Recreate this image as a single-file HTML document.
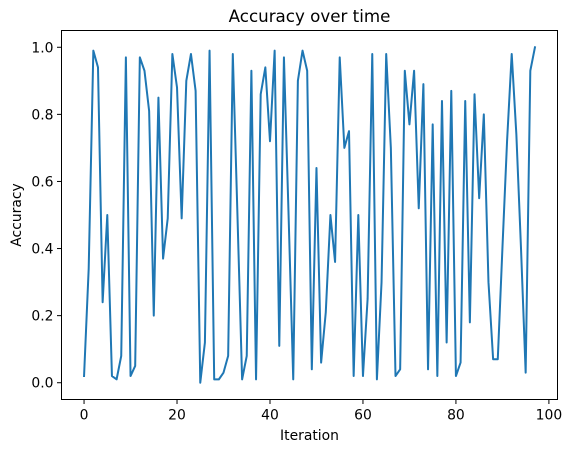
<!DOCTYPE html>
<html><head><meta charset="utf-8"><style>
body{margin:0;background:#fff}
svg{display:block;font-family:"DejaVu Sans","Liberation Sans",sans-serif}
</style></head><body>
<svg id="chart" width="572" height="453"></svg>
<script>
const iterations = [];
const accuracy = [0.02,0.34,0.99,0.94,0.24,0.50,0.02,0.01,0.08,0.97,0.02,0.05,0.97,0.93,0.81,0.20,0.85,0.37,0.49,0.98,
0.88,0.49,0.90,0.98,0.87,0.00,0.12,0.99,0.01,0.01,0.03,0.08,0.98,0.50,0.01,0.08,0.93,0.01,0.86,0.94,
0.72,0.99,0.11,0.97,0.50,0.01,0.90,0.99,0.93,0.04,0.64,0.06,0.21,0.50,0.36,0.97,0.70,0.75,0.02,0.50,
0.02,0.25,0.98,0.01,0.30,0.98,0.70,0.02,0.04,0.93,0.77,0.93,0.52,0.89,0.04,0.77,0.02,0.84,0.12,0.87,
0.02,0.06,0.84,0.18,0.86,0.55,0.80,0.30,0.07,0.07,0.40,0.72,0.98,0.74,0.40,0.03,0.93,1.00];
for (let i=0;i<accuracy.length;i++) iterations.push(i);
const xTicks = [0,20,40,60,80,100];
const yTicks = [0.0,0.2,0.4,0.6,0.8,1.0];

const L=61.5,R=557.5,T=30.5,B=399.5;
const xmin=-4.85,xmax=101.85,ymin=-0.05,ymax=1.05;
const xs=v=>L+(v-xmin)/(xmax-xmin)*(R-L);
const ys=v=>B-(v-ymin)/(ymax-ymin)*(B-T);
const svg=document.getElementById('chart');
const NS='http://www.w3.org/2000/svg';
function mk(tag,attrs,parent){const e=document.createElementNS(NS,tag);for(const k in attrs)e.setAttribute(k,attrs[k]);(parent||svg).appendChild(e);return e;}

let d='';
iterations.forEach((x,i)=>{d+=(i?'L':'M')+xs(x).toFixed(2)+','+ys(accuracy[i]).toFixed(2);});
const line=mk('path',{d:d,fill:'none',stroke:'#1f77b4','stroke-width':2,'stroke-linejoin':'round','stroke-linecap':'square'});



const frame=mk('rect',{x:L,y:T,width:R-L,height:B-T,fill:'none',stroke:'#000','stroke-width':1});



xTicks.forEach(t=>{
  const x=xs(t);
  const tk=mk('line',{x1:x,x2:x,y1:B,y2:B+4.5,stroke:'#000','stroke-width':1});
  
  
  const lb=mk('text',{x:x,y:B+20,'text-anchor':'middle','font-size':13.9});
  lb.textContent=String(t);
  
  
});
yTicks.forEach(t=>{
  const y=ys(t);
  const tk=mk('line',{x1:L-4.5,x2:L,y1:y,y2:y,stroke:'#000','stroke-width':1});
  
  
  const lb=mk('text',{x:L-8,y:y+5,'text-anchor':'end','font-size':13.9});
  lb.textContent=t.toFixed(1);
  
  
});
const xt=mk('text',{x:(L+R)/2,y:440,'text-anchor':'middle','font-size':13.9});
xt.textContent='Iteration';


const yt=mk('text',{x:0,y:0,'text-anchor':'middle','font-size':13.9,transform:'translate(21,'+((T+B)/2)+') rotate(-90)'});
yt.textContent='Accuracy';


const ti=mk('text',{x:(L+R)/2,y:22,'text-anchor':'middle','font-size':16.7});
ti.textContent='Accuracy over time';


</script>
</body></html>
